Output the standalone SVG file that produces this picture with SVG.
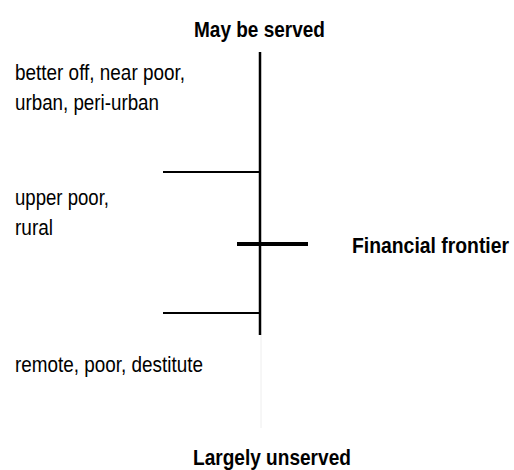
<svg xmlns="http://www.w3.org/2000/svg" width="514" height="470" viewBox="0 0 514 470">
<style>
text{font-family:"Liberation Sans",Arial,sans-serif;fill:#000}
.r{font-size:22px}
.b{font-size:22px;font-weight:bold}
.ln{stroke:#000;fill:none}
</style>
<rect width="514" height="470" fill="#fff"/>
<g id="connectors">
<line class="ln" x1="260" y1="52" x2="260" y2="335" stroke-width="2.5"/>
<line x1="261" y1="335" x2="261" y2="428" stroke="#eeeeee" stroke-width="1"/>
<line class="ln" x1="163" y1="172" x2="260" y2="172" stroke-width="2"/>
<line class="ln" x1="163" y1="313" x2="260" y2="313" stroke-width="2"/>
<line class="ln" x1="237" y1="244" x2="308" y2="244" stroke-width="4"/>
</g>
<g id="top-label"><text class="b" transform="translate(194,37) scale(0.864,1)">May be served</text></g>
<g id="bottom-label"><text class="b" transform="translate(193,465) scale(0.867,1)">Largely unserved</text></g>
<g id="frontier-label"><text class="b" transform="translate(352,253) scale(0.88,1)">Financial frontier</text></g>
<g id="group-better-off">
<text class="r" x="15" y="80" textLength="170" lengthAdjust="spacingAndGlyphs">better off, near poor,</text>
<text class="r" x="15" y="110" textLength="144" lengthAdjust="spacingAndGlyphs">urban, peri-urban</text>
</g>
<g id="group-upper-poor">
<text class="r" x="15" y="205" textLength="94" lengthAdjust="spacingAndGlyphs">upper poor,</text>
<text class="r" x="15" y="235" textLength="38" lengthAdjust="spacingAndGlyphs">rural</text>
</g>
<g id="group-remote">
<text class="r" x="15" y="372" textLength="188" lengthAdjust="spacingAndGlyphs">remote, poor, destitute</text>
</g>
</svg>
